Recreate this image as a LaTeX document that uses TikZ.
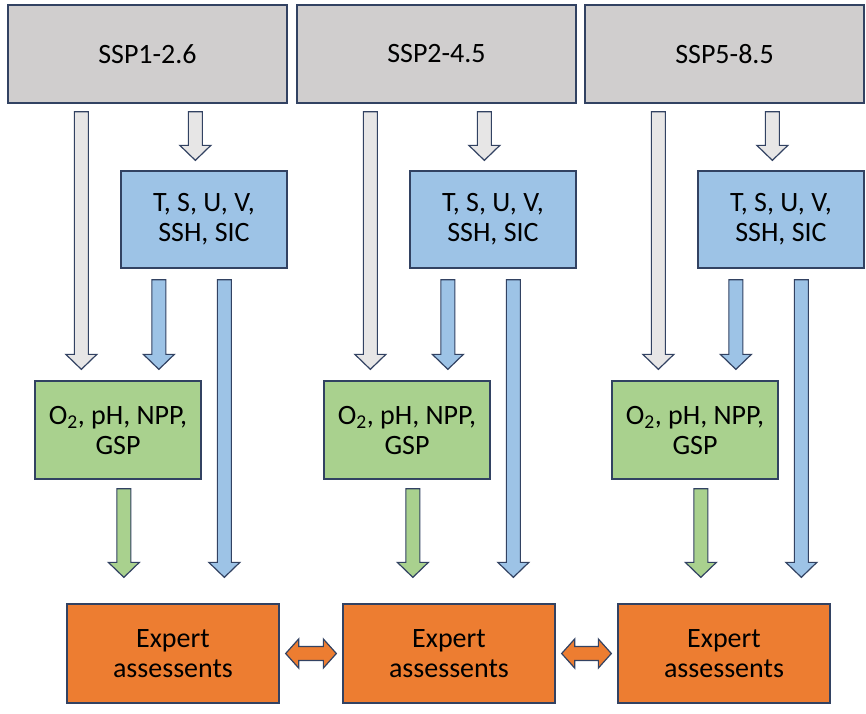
\documentclass[tikz,border=0pt]{standalone}
\usepackage{fontspec}
\setmainfont{Carlito}
\usetikzlibrary{calc}

\definecolor{edgeblue}{RGB}{50,66,98}
\definecolor{sspgray}{RGB}{208,206,206}
\definecolor{arrowgray}{RGB}{231,230,230}
\definecolor{physblue}{RGB}{157,195,230}
\definecolor{bgcgreen}{RGB}{169,209,142}
\definecolor{exporange}{RGB}{237,125,49}

\newcommand{\blockarrow}[3]{%
  \draw[blockedge, fill=#1] ($(#2)+(-7,0)$) -- ($(#3)+(-7,-15)$) -- ($(#3)+(-15.5,-15)$) -- (#3)
    -- ($(#3)+(15.5,-15)$) -- ($(#3)+(7,-15)$) -- ($(#2)+(7,0)$) -- cycle;}
\newcommand{\dblarrow}[2]{%
  \draw[blockedge, fill=exporange] (#1) -- ($(#1)+(13,-14.5)$) -- ($(#1)+(13,-7)$) -- ($(#2)+(-13,-7)$)
    -- ($(#2)+(-13,-14.5)$) -- (#2) -- ($(#2)+(-13,14.5)$) -- ($(#2)+(-13,7)$) -- ($(#1)+(13,7)$)
    -- ($(#1)+(13,14.5)$) -- cycle;}

\begin{document}
\begin{tikzpicture}[x=1pt, y=-1pt,
  every node/.style={font=\fontsize{28}{30}\selectfont, align=center, inner sep=2pt},
  box/.style={draw=edgeblue, line width=1.3pt},
  blockedge/.style={draw=edgeblue, line width=1.2pt},
  ssp/.style={box, fill=sspgray, minimum width=279pt, minimum height=98pt},
  phys/.style={box, fill=physblue, minimum width=166pt, minimum height=97pt},
  bgc/.style={box, fill=bgcgreen, minimum width=166pt, minimum height=98pt},
  expert/.style={box, fill=exporange, minimum width=212pt, minimum height=99pt}]
	\useasboundingbox (0,0) rectangle (866,713);
	\foreach \i/\dx/\ox/\scen in {1/0/0/SSP1-2.6, 2/289/276/SSP2-4.5, 3/577/551/SSP5-8.5} {
		\node[ssp] (ssp\i) at (147.5+\dx,54) {\scen};
		\node[phys] (phys\i) at (204+\dx,219.5) {T, S, U, V,\\SSH, SIC};
		\node[bgc] (bgc\i) at (118+\dx,430) {O\textsubscript{2}, pH, NPP,\\GSP};
		\node[expert] (exp\i) at (173+\ox,653.5) {Expert\\assessents};
		\coordinate (ga\i) at ($(ssp\i.south west)+(74,8)$);
		\coordinate (gb\i) at ($(ga\i |- bgc\i.north)+(0,-11)$);
		\coordinate (sa\i) at ($(ssp\i.south west)+(188,8)$);
		\coordinate (sb\i) at ($(sa\i |- phys\i.north)+(0,-10)$);
		\coordinate (pa\i) at ($(phys\i.south west)+(38.5,11)$);
		\coordinate (pb\i) at ($(pa\i |- bgc\i.north)+(0,-11)$);
		\coordinate (qa\i) at ($(phys\i.south west)+(104,11)$);
		\coordinate (qb\i) at ($(qa\i |- exp\i.north)+(0,-26)$);
		\coordinate (ba\i) at ($(bgc\i.south west)+(89.5,9)$);
		\coordinate (bb\i) at ($(ba\i |- exp\i.north)+(0,-26)$);
		\blockarrow{arrowgray}{ga\i}{gb\i}
		\blockarrow{arrowgray}{sa\i}{sb\i}
		\blockarrow{physblue}{pa\i}{pb\i}
		\blockarrow{physblue}{qa\i}{qb\i}
		\blockarrow{bgcgreen}{ba\i}{bb\i}
	}
	\coordinate (l1) at ($(exp1.east)+(6,0)$);
	\coordinate (r1) at ($(exp2.west)+(-6,0)$);
	\coordinate (l2) at ($(exp2.east)+(6,0)$);
	\coordinate (r2) at ($(exp3.west)+(-6,0)$);
	\dblarrow{l1}{r1}
	\dblarrow{l2}{r2}
\end{tikzpicture}
\end{document}
